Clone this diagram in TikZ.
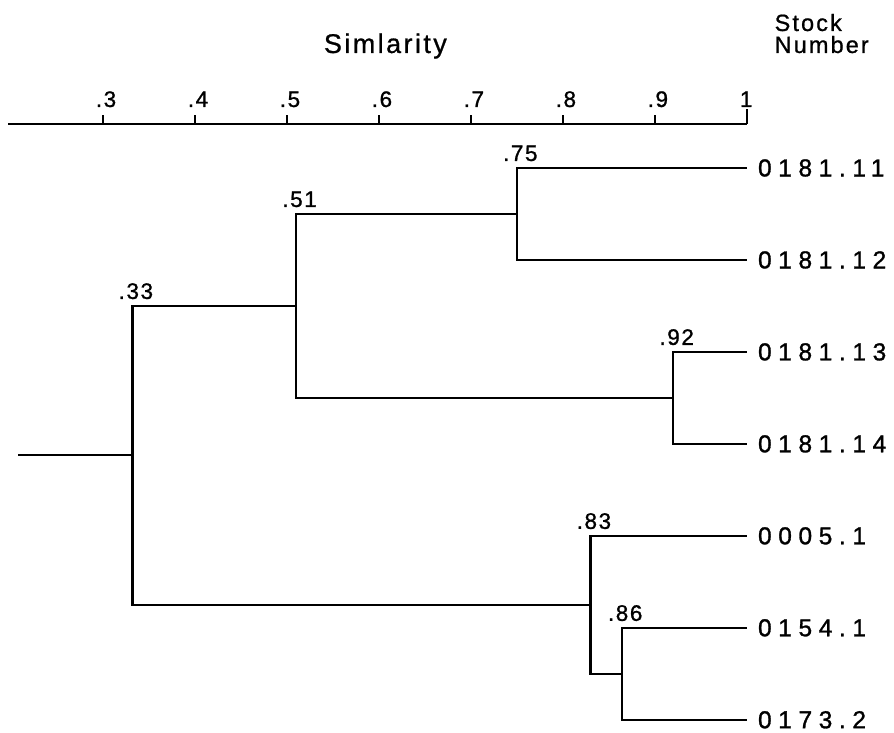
\documentclass[tikz,border=0pt]{standalone}
\usepackage{fontspec}
\setmainfont{Liberation Sans}
\newfontfamily\leaffont[LetterSpace=27, FakeBold=1.2]{Liberation Sans}
\newfontfamily\valfont[LetterSpace=7, FakeBold=1]{Liberation Sans}
\newfontfamily\headfont[LetterSpace=9, FakeBold=0.8]{Liberation Sans}

\tikzset{
  branch/.style={line width=2.2pt},
  tick/.style={line width=1.6pt},
  leaf/.style={anchor=west, inner xsep=11pt, inner ysep=0pt,
    font=\leaffont\fontsize{24.5}{24.5}\selectfont},
  val/.style={anchor=base west, inner sep=0pt, xshift=-14pt, yshift=7pt,
    font=\valfont\fontsize{22.5}{22.5}\selectfont},
  scalelabel/.style={anchor=base, inner sep=0pt, xshift=3pt,
    font=\valfont\fontsize{22.5}{22.5}\selectfont},
  head/.style={inner sep=0pt, font=\headfont\fontsize{23.5}{23.5}\selectfont},
}

\begin{document}
\begin{tikzpicture}[x=9.2pt, y=-1pt]
    \useasboundingbox[fill=white] (18.8,0) rectangle (116,733);

    % Similarity scale
    \draw[line width=2.6pt] (19.7,124) -- (100,124);
    \draw[tick] (30,124) -- (30,115);
    \draw[tick] (40,124) -- (40,115);
    \draw[tick] (50,124) -- (50,115);
    \draw[tick] (60,124) -- (60,115);
    \draw[tick] (70,124) -- (70,115);
    \draw[tick] (80,124) -- (80,115);
    \draw[tick] (90,124) -- (90,115);
    \draw[tick] (100,124) -- (100,109);
    \node[scalelabel] (s3) at (30,107) {.3};
    \node[scalelabel] (s4) at (40,107) {.4};
    \node[scalelabel] (s5) at (50,107) {.5};
    \node[scalelabel] (s6) at (60,107) {.6};
    \node[scalelabel] (s7) at (70,107) {.7};
    \node[scalelabel] (s8) at (80,107) {.8};
    \node[scalelabel] (s9) at (90,107) {.9};
    \node[scalelabel] (s10) at (99.6,107) {1};

    % Headings
    \node[head, anchor=base, font=\headfont\fontsize{27}{27}\selectfont] (title) at (60.7,53) {Simlarity};
    \node[head, anchor=base west] (stock) at (103,31) {Stock};
    \node[head, anchor=base west] (number) at (103,53) {Number};

    % Stock numbers
    \node[leaf] (st1) at (100,168) {0181.11};
    \node[leaf] (st2) at (100,260) {0181.12};
    \node[leaf] (st3) at (100,352) {0181.13};
    \node[leaf] (st4) at (100,444) {0181.14};
    \node[leaf] (st5) at (100,536) {0005.1};
    \node[leaf] (st6) at (100,628) {0154.1};
    \node[leaf] (st7) at (100,720) {0173.2};

    % Joins
    \coordinate (n75) at (75,214);
    \coordinate (n92) at (92,398);
    \coordinate (n51) at (51,306);
    \coordinate (n86) at (86.4,674);
    \coordinate (n83) at (83,605);
    \coordinate (n33) at (33.2,455);
    \coordinate (root) at (20.8,455);

    \draw[branch] (n75) |- (st1);
    \draw[branch] (n75) |- (st2);
    \draw[branch] (n92) |- (st3);
    \draw[branch] (n92) |- (st4);
    \draw[branch] (n51) |- (n75);
    \draw[branch] (n51) |- (n92);
    \draw[branch] (n86) |- (st6);
    \draw[branch] (n86) |- (st7);
    \draw[branch] (n83) |- (st5);
    \draw[branch] (n83) |- (n86);
    \draw[branch] (n33) |- (n51);
    \draw[branch] (n33) |- (n83);
    \draw[branch] (root) -- (n33);

    % Similarity values
    \node[val] (v75) at (n75 |- st1) {.75};
    \node[val] (v92) at (n92 |- st3) {.92};
    \node[val] (v51) at (n51 |- n75) {.51};
    \node[val] (v86) at (n86 |- st6) {.86};
    \node[val] (v83) at (n83 |- st5) {.83};
    \node[val] (v33) at (n33 |- n51) {.33};
\end{tikzpicture}
\end{document}
